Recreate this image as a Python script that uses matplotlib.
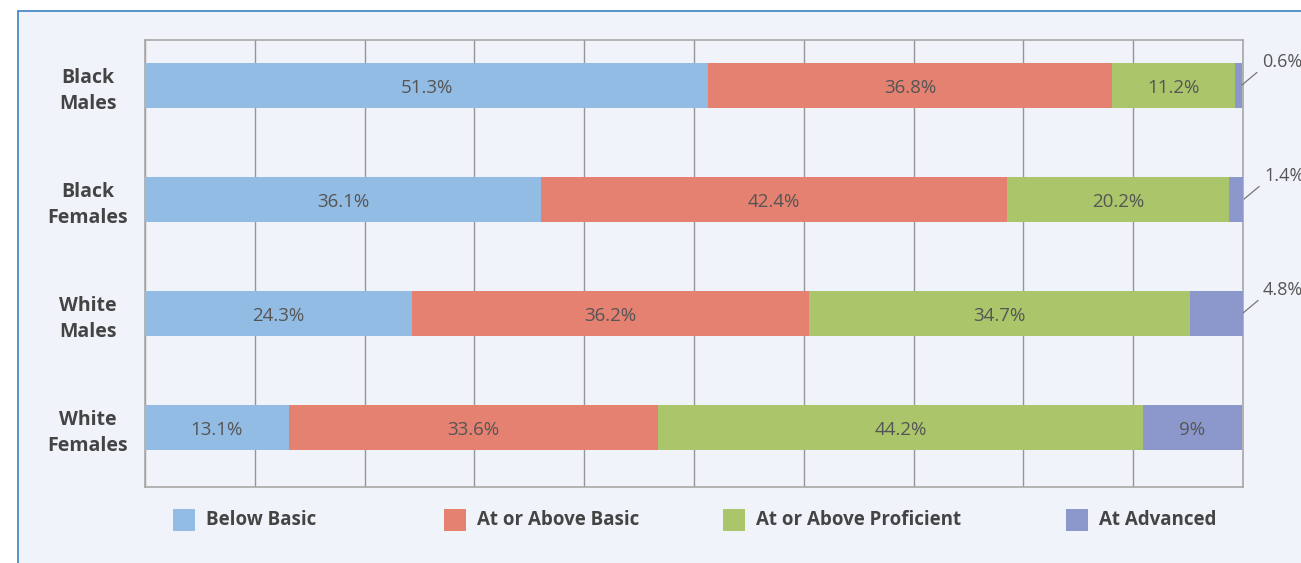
import matplotlib.pyplot as plt
from matplotlib.patches import Rectangle

groups = ['Black\nMales', 'Black\nFemales', 'White\nMales', 'White\nFemales']
levels = ['Below Basic', 'At or Above Basic', 'At or Above Proficient', 'At Advanced']
below_basic = [51.3, 36.1, 24.3, 13.1]
above_basic = [36.8, 42.4, 36.2, 33.6]
proficient = [11.2, 20.2, 34.7, 44.2]
advanced = [0.6, 1.4, 4.8, 9]
value_text = [
    ['51.3%', '36.8%', '11.2%', '0.6%'],
    ['36.1%', '42.4%', '20.2%', '1.4%'],
    ['24.3%', '36.2%', '34.7%', '4.8%'],
    ['13.1%', '33.6%', '44.2%', '9%'],
]

colors = ['#93bce4', '#e48171', '#abc56b', '#8c98cc']
text_color = '#555555'
plt.rcParams['font.family'] = ['Open Sans', 'DejaVu Sans']

fig = plt.figure(figsize=(13.01, 5.63), dpi=100)
fig.patch.set_facecolor('white')
# background panel with blue frame
fig.patches.append(Rectangle((18 / 1301, -0.2), 1.2, 1.2 - 11 / 563,
                             transform=fig.transFigure, facecolor='#f0f3fa',
                             edgecolor='#3a82c0', linewidth=1.2, zorder=-10))

ax = fig.add_axes([145 / 1301, 1 - 487 / 563, (1243 - 145) / 1301, (487 - 40) / 563])
ax.set_facecolor('none')
ax.set_zorder(5)

series = [below_basic, above_basic, proficient, advanced]
ypos = list(range(len(groups)))
left = [0.0] * len(groups)
for k, vals in enumerate(series):
    bars = ax.barh(ypos, vals, left=left, height=0.395, color=colors[k],
                   zorder=3, label=levels[k])
    for i, b in enumerate(bars):
        if k == 3 and vals[i] < 5:
            continue
        ax.text(b.get_x() + b.get_width() / 2, b.get_y() + b.get_height() / 2 + 0.03,
                value_text[i][k], ha='center', va='center', fontsize=13.5,
                color=text_color, zorder=4)
    left = [l + v for l, v in zip(left, vals)]

# small advanced shares get a callout outside the plot
for i in range(len(groups)):
    if advanced[i] < 5:
        ax.annotate(value_text[i][3], xy=(left[i], ypos[i]), xycoords='data',
                    xytext=(20, 23), textcoords='offset pixels',
                    ha='left', va='center', fontsize=13, color=text_color,
                    annotation_clip=False,
                    arrowprops=dict(arrowstyle='-', color='#777777', lw=0.9,
                                    shrinkA=2, shrinkB=0, relpos=(0, 0.15)))

ax.set_xlim(0, 100)
ax.set_ylim(3.526, -0.395)
ax.set_xticks(range(0, 101, 10))
ax.xaxis.grid(True, color='#969696', linewidth=1.0, zorder=1)
ax.set_axisbelow(True)
ax.tick_params(axis='x', length=0, labelbottom=False)
ax.tick_params(axis='y', length=0, pad=41)
ax.set_yticks(ypos)
ax.set_yticklabels(groups, fontsize=14, fontweight='bold', color='#444444',
                   linespacing=1.4, ha='center', multialignment='center')
for sp in ax.spines.values():
    sp.set_color('#a8a8a8')
    sp.set_linewidth(1.2)

# legend laid out along the bottom
legend_x = [173, 444, 723, 1066]
for k, name in enumerate(levels):
    x0 = legend_x[k] / 1301
    fig.patches.append(Rectangle((x0, 1 - 531 / 563), 22 / 1301, 22 / 563,
                                 transform=fig.transFigure, facecolor=colors[k],
                                 edgecolor='none', zorder=2))
    fig.text(x0 + 33 / 1301, 1 - 520 / 563, name, ha='left', va='center',
             fontsize=13.5, fontweight='bold', color='#444444')

fig.savefig('out.png', dpi=100)
